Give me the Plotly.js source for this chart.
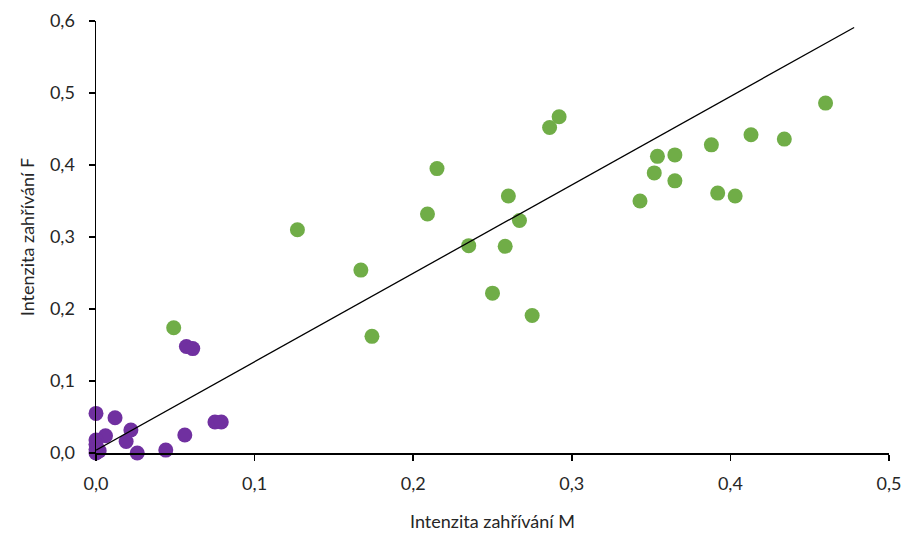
<!DOCTYPE html>
<html>
<head>
<meta charset="utf-8">
<script src="https://cdn.plot.ly/plotly-3.0.1.min.js"></script>
<style>
  html, body { margin: 0; padding: 0; background: #fff; }
  #chart { width: 909px; height: 533px; }
</style>
</head>
<body>
<div id="chart"></div>
<script>
// zelená skupina
var greenX = [0.049, 0.127, 0.167, 0.174, 0.209, 0.215, 0.235, 0.250, 0.258, 0.260, 0.267, 0.275, 0.286, 0.292,
              0.343, 0.352, 0.354, 0.365, 0.365, 0.388, 0.392, 0.403, 0.413, 0.434, 0.460];
var greenY = [0.174, 0.310, 0.254, 0.162, 0.332, 0.395, 0.288, 0.222, 0.287, 0.357, 0.323, 0.191, 0.452, 0.467,
              0.350, 0.389, 0.412, 0.414, 0.378, 0.428, 0.361, 0.357, 0.442, 0.436, 0.486];

// fialová skupina
var purpleX = [0.000, 0.012, 0.057, 0.061, 0.075, 0.079, 0.056, 0.044, 0.026, 0.019, 0.022, 0.006,
               0.000, 0.000, 0.000, 0.000, 0.002];
var purpleY = [0.055, 0.049, 0.148, 0.145, 0.043, 0.043, 0.025, 0.004, 0.000, 0.016, 0.032, 0.024,
               0.018, 0.012, 0.005, 0.000, 0.003];

// přímka
var lineX = [0.0, 0.478];
var lineY = [0.004, 0.591];

var font = 'Lato, "Open Sans", sans-serif';
var txt = '#262626';

var data = [
  {
    x: greenX, y: greenY, type: 'scatter', mode: 'markers',
    marker: { color: '#70AD47', size: 15 },
    cliponaxis: false, hoverinfo: 'x+y'
  },
  {
    x: purpleX, y: purpleY, type: 'scatter', mode: 'markers',
    marker: { color: '#7030A0', size: 15 },
    cliponaxis: false, hoverinfo: 'x+y'
  },
  {
    x: lineX, y: lineY, type: 'scatter', mode: 'lines',
    line: { color: '#000000', width: 1.3 },
    cliponaxis: false, hoverinfo: 'skip'
  }
];

var layout = {
  width: 909, height: 533,
  margin: { l: 96, r: 20, t: 21, b: 80 },
  paper_bgcolor: '#fff', plot_bgcolor: '#fff',
  showlegend: false,
  separators: ', ',
  font: { family: font, size: 18, color: txt },
  xaxis: {
    range: [0, 0.5], dtick: 0.1, tick0: 0, tickformat: '.1f',
    showgrid: false, zeroline: false,
    showline: true, linecolor: '#000', linewidth: 1.5,
    ticks: 'outside', ticklen: 6, tickcolor: '#000', tickwidth: 1.5,
    ticklabelstandoff: 8,
    tickfont: { family: font, size: 18, color: txt },
    title: { text: 'Intenzita zahřívání M', font: { family: font, size: 18, color: txt }, standoff: 22 }
  },
  yaxis: {
    range: [0, 0.6], dtick: 0.1, tick0: 0, tickformat: '.1f',
    showgrid: false, zeroline: false,
    showline: true, linecolor: '#000', linewidth: 1.5,
    ticks: 'outside', ticklen: 6, tickcolor: '#000', tickwidth: 1.5,
    ticklabelstandoff: 10,
    tickfont: { family: font, size: 18, color: txt },
    title: { text: 'Intenzita zahřívání F', font: { family: font, size: 18, color: txt }, standoff: 10 }
  }
};

Plotly.newPlot('chart', data, layout, { displayModeBar: false, staticPlot: true });
</script>
</body>
</html>
